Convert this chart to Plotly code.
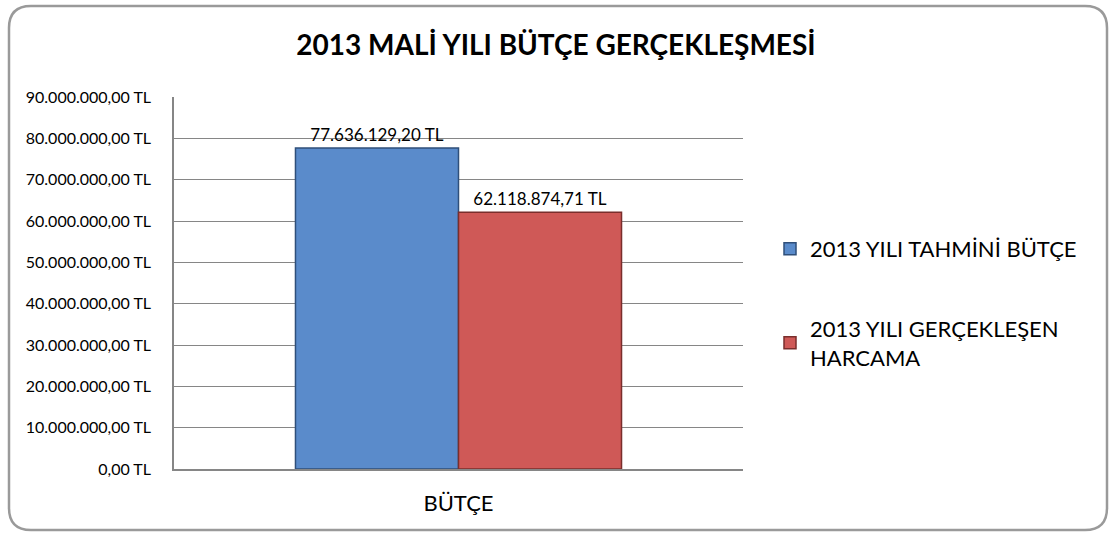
import plotly.graph_objects as go

categories = ["BÜTÇE"]
series_names = ["2013 YILI TAHMİNİ BÜTÇE", "2013 YILI GERÇEKLEŞEN<br>HARCAMA"]
tahmini = [77636129.20]
gerceklesen = [62118874.71]
colors = ["#5A8BCB", "#CF5957"]
edge_colors = ["#2F4F7A", "#7A2E2C"]
tick_vals = [0, 10e6, 20e6, 30e6, 40e6, 50e6, 60e6, 70e6, 80e6, 90e6]


def tl(v):
    s = f"{v:,.2f}"
    return s.replace(",", "#").replace(".", ",").replace("#", ".") + " TL"


tick_text = [tl(v) for v in tick_vals]

W, H = 1112, 535
L, R, T, B = 174, 1112 - 743, 97, 535 - 469
pw, ph = W - L - R, H - T - B


def px(x):
    return (x - L) / pw


def py(y):
    return (H - B - y) / ph


font = "Lato, 'Open Sans', sans-serif"

fig = go.Figure()
for i, (name, vals, c, ec) in enumerate(zip(series_names, [tahmini, gerceklesen], colors, edge_colors)):
    fig.add_trace(go.Bar(
        x=categories, y=vals, name=name, legendgroup=f"g{i}",
        marker=dict(color=c, line=dict(color=ec, width=1.5)),
        text=[tl(v) for v in vals], texttemplate="%{text}", textposition="outside",
        textfont=dict(size=17, color="black", family=font),
        cliponaxis=False,
    ))

# rounded border
x0, x1, y0, y1, r = 9, 1107, 6, 530, 22
path = (f"M {px(x0+r)},{py(y0)} L {px(x1-r)},{py(y0)} "
        f"Q {px(x1)},{py(y0)} {px(x1)},{py(y0+r)} L {px(x1)},{py(y1-r)} "
        f"Q {px(x1)},{py(y1)} {px(x1-r)},{py(y1)} L {px(x0+r)},{py(y1)} "
        f"Q {px(x0)},{py(y1)} {px(x0)},{py(y1-r)} L {px(x0)},{py(y0+r)} "
        f"Q {px(x0)},{py(y0)} {px(x0+r)},{py(y0)} Z")

fig.update_layout(
    width=W, height=H,
    margin=dict(l=L, r=R, t=T, b=B, autoexpand=False),
    paper_bgcolor="white", plot_bgcolor="white",
    barmode="group", bargap=0.427, bargroupgap=0,
    title=dict(text="<b>2013 MALİ YILI BÜTÇE GERÇEKLEŞMESİ</b>", x=0.5, xanchor="center",
               y=1 - 45 / H, yanchor="middle",
               font=dict(size=28, color="black", family=font)),
    showlegend=True,
    legend=dict(x=px(770), xanchor="left", y=py(228), yanchor="top",
                font=dict(size=22, color="black", family=font),
                tracegroupgap=48, bgcolor="rgba(0,0,0,0)", itemwidth=30),
    xaxis=dict(showline=True, linecolor="#868686", linewidth=1.5, ticks="",
               tickfont=dict(size=22, color="black", family=font), ticklabelstandoff=14),
    yaxis=dict(range=[0, 90e6], tickvals=tick_vals, ticktext=tick_text,
               showline=True, linecolor="#868686", linewidth=1.5,
               gridcolor="#868686", gridwidth=1.2, zeroline=False,
               tickfont=dict(size=16, color="black", family=font), ticks="", ticklabelstandoff=18),
    shapes=[dict(type="path", path=path, xref="paper", yref="paper",
                 line=dict(color="#9A9A9A", width=2.5), layer="below")],
)

fig.write_html("out.html", config={"displayModeBar": False},
               post_script="document.body.style.margin='0';document.body.style.overflow='hidden';")
